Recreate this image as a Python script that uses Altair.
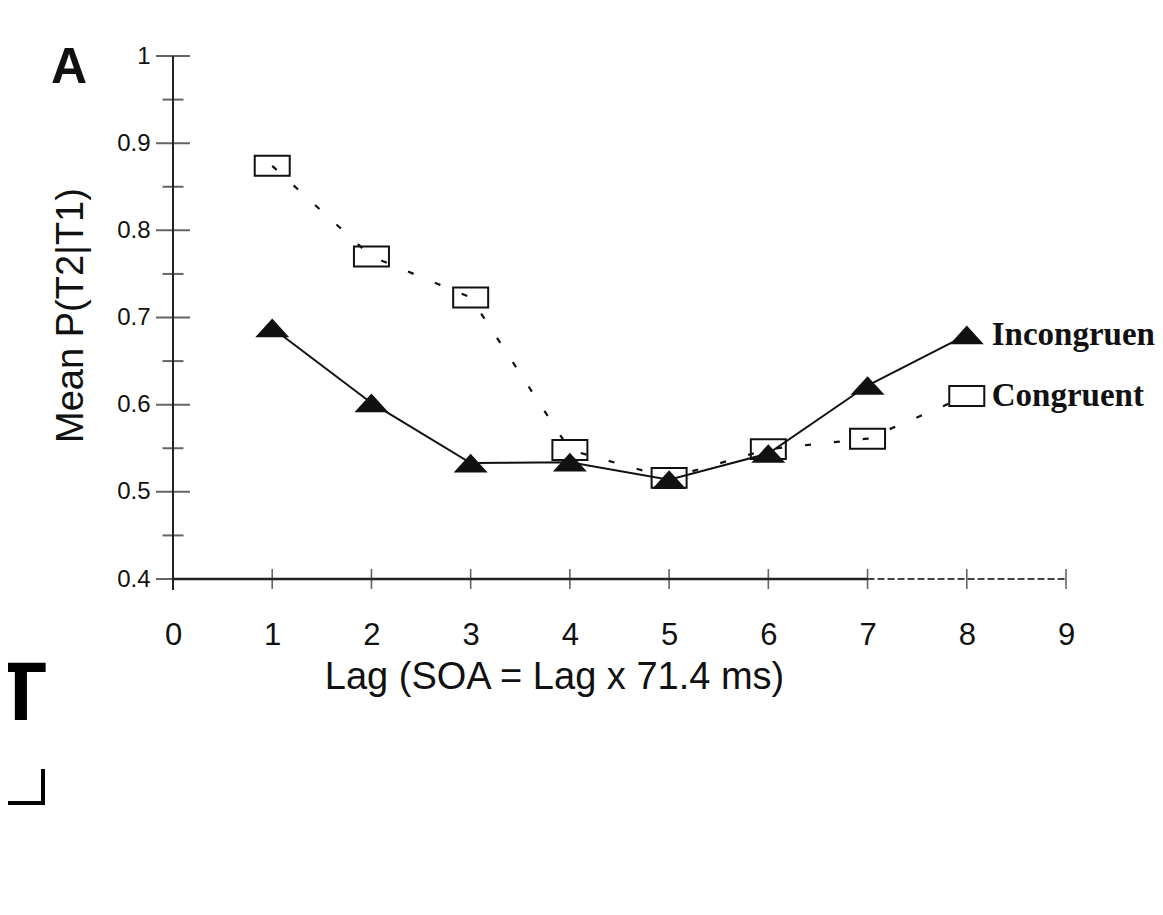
import altair as alt
import pandas as pd

# ---- data ----
lags = [1, 2, 3, 4, 5, 6, 7, 8]
congruent = [0.874, 0.770, 0.723, 0.548, 0.516, 0.549, 0.561, 0.610]
incongruent = [0.688, 0.602, 0.533, 0.534, 0.514, 0.544, 0.622, 0.680]
series_names = ["Congruent", "Incongruent"]
x_tick_values = [0, 1, 2, 3, 4, 5, 6, 7, 8, 9]
y_major = [0.4, 0.5, 0.6, 0.7, 0.8, 0.9, 1.0]
y_minor = [0.45, 0.55, 0.65, 0.75, 0.85, 0.95]
x_title = "Lag (SOA = Lag x 71.4 ms)"
y_title = "Mean P(T2|T1)"

W, H = 893, 523
INK = "#111111"
SANS = "Liberation Sans"
SERIF = "Liberation Serif"

df_c = pd.DataFrame({"lag": lags, "p": congruent, "series": series_names[0]})
df_i = pd.DataFrame({"lag": lags, "p": incongruent, "series": series_names[1]})

x_scale = alt.Scale(domain=[0, 9], nice=False, zero=False)
y_scale = alt.Scale(domain=[0.4, 1.0], nice=False, zero=False)

x_axis = alt.Axis(values=x_tick_values, format="d", title=x_title, domain=False, ticks=False,
                  grid=False, labelFont=SANS, labelFontSize=31, labelColor=INK, labelPadding=41,
                  labelFlush=False, labelOverlap=False, titleFont=SANS, titleFontSize=38,
                  titleFontWeight="normal", titleColor=INK, titleX=381, titleY=109,
                  titleBaseline="alphabetic", titleAlign="center")
y_axis = alt.Axis(values=y_major, format=".1~f", title=y_title, domain=False, ticks=False,
                  grid=False, labelFont=SANS, labelFontSize=24, labelColor=INK, labelPadding=23,
                  labelFlush=False, labelOverlap=False, titleFont=SANS, titleFontSize=38,
                  titleFontWeight="normal", titleColor=INK, titleX=-91, titleY=259, titleAngle=270,
                  titleBaseline="alphabetic", titleAlign="center")

X = alt.X("lag:Q", scale=x_scale, axis=x_axis)
Y = alt.Y("p:Q", scale=y_scale, axis=y_axis)

# axis lines
y_line = alt.Chart(pd.DataFrame({"lag": [0], "p": [1.0]})).mark_rule(
    color="#222", strokeWidth=2).encode(x=X, y=Y, y2=alt.value(H + 11))
x_solid = alt.Chart(pd.DataFrame({"lag": [0], "lag2": [7], "p": [0.4]})).mark_rule(
    color="#222", strokeWidth=2.5).encode(x=X, x2="lag2:Q", y=Y)
x_dashed = alt.Chart(pd.DataFrame({"lag": [7], "lag2": [9], "p": [0.4]})).mark_rule(
    color="#444", strokeWidth=2, strokeDash=[7, 3]).encode(x=X, x2="lag2:Q", y=Y)

# crossing ticks
y_major_ticks = alt.Chart(pd.DataFrame({"p": y_major, "lag": 0})).mark_tick(
    orient="horizontal", size=34, thickness=2, color="#222").encode(x=X, y=Y)
y_minor_ticks = alt.Chart(pd.DataFrame({"p": y_minor, "lag": 0})).mark_tick(
    orient="horizontal", size=21, thickness=2, color="#222").encode(x=X, y=Y)
x_ticks = alt.Chart(pd.DataFrame({"lag": x_tick_values[1:], "p": 0.4})).mark_tick(
    orient="vertical", size=20, thickness=1.6, color="#222").encode(x=X, y=Y)

# series
rect_path = "M -1 -0.57 H 1 V 0.57 H -1 Z"
tri_path = "M -1 0.55 L 1 0.55 L 0 -0.55 Z"

c_line = alt.Chart(df_c).mark_line(color=INK, strokeWidth=2.2, strokeDash=[6, 23]).encode(x=X, y=Y)
c_pts = alt.Chart(df_c).mark_point(shape=rect_path, size=1225, filled=False, color=INK,
                                   strokeWidth=2, opacity=1).encode(x=X, y=Y)
i_line = alt.Chart(df_i).mark_line(color=INK, strokeWidth=2).encode(x=X, y=Y)
i_pts = alt.Chart(df_i).mark_point(shape=tri_path, size=1156, filled=True, color=INK,
                                   opacity=1).encode(x=X, y=Y)

labels_df = pd.concat([df_c, df_i]).query("lag == 8")
labels = alt.Chart(labels_df).mark_text(font=SERIF, fontSize=33, fontWeight="bold", color=INK,
                                        align="left", baseline="middle", dx=25).encode(
    x=X, y=Y, text="series:N")

# panel decorations
panel_a = alt.Chart(pd.DataFrame({"t": ["A"]})).mark_text(
    font=SANS, fontSize=50, fontWeight="bold", color=INK, align="left",
    baseline="alphabetic").encode(x=alt.value(-122), y=alt.value(27), text="t:N")
big_t = alt.Chart(pd.DataFrame({"t": ["T"]})).mark_text(
    font=SANS, fontSize=84, fontWeight="bold", color="#000", align="center",
    baseline="alphabetic").encode(x=alt.value(-152), y=alt.value(664), text="t:N")
br_v = alt.Chart(pd.DataFrame({"k": [0]})).mark_rule(color="#000", strokeWidth=4).encode(
    x=alt.value(-130), y=alt.value(713), y2=alt.value(749))
br_h = alt.Chart(pd.DataFrame({"k": [0]})).mark_rule(color="#000", strokeWidth=4).encode(
    x=alt.value(-185), x2=alt.value(-128), y=alt.value(747))

chart = alt.layer(
    y_line, x_solid, x_dashed, y_major_ticks, y_minor_ticks, x_ticks,
    c_line, c_pts, i_line, i_pts, labels, panel_a, big_t, br_v, br_h
).properties(
    width=W, height=H,
    autosize=alt.AutoSizeParams(type="none"),
    padding={"left": 165, "top": 48, "right": 89, "bottom": 320},
    background="white",
).configure_view(stroke=None)

chart.save("out.html", embed_options={"renderer": "svg", "actions": False})
